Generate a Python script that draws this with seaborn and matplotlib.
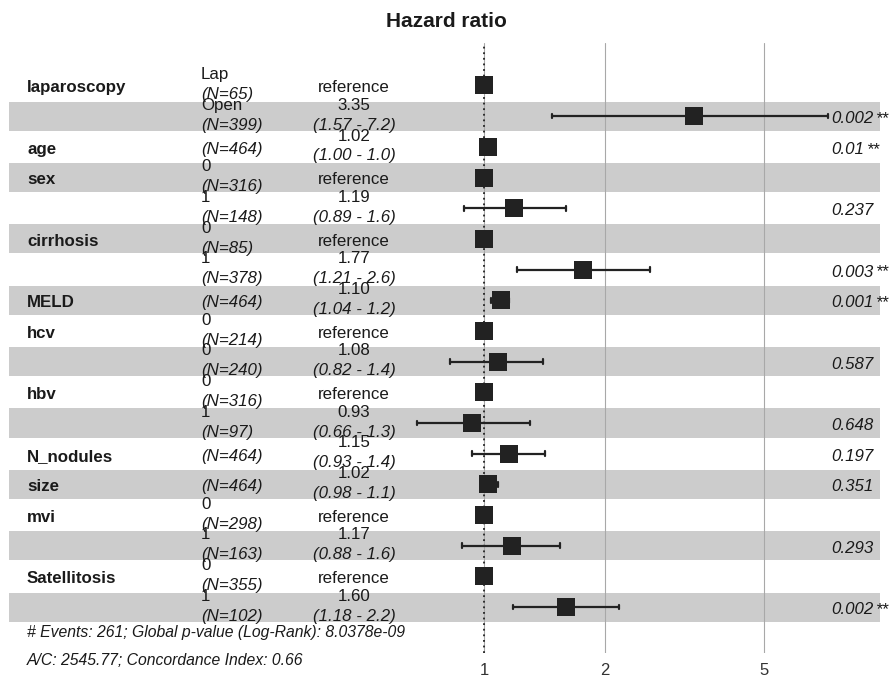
import numpy as np
import pandas as pd
import matplotlib
matplotlib.use("Agg")
import matplotlib.pyplot as plt
import matplotlib.transforms as mtransforms
import seaborn as sns

# ---- data -----------------------------------------------------------
variables = ["laparoscopy", "", "age", "sex", "", "cirrhosis", "", "MELD", "hcv", "",
             "hbv", "", "N_nodules", "size", "mvi", "", "Satellitosis", ""]
levels = ["Lap", "Open", "", "0", "1", "0", "1", "", "0", "0",
          "0", "1", "", "", "0", "1", "0", "1"]
n_obs = [65, 399, 464, 316, 148, 85, 378, 464, 214, 240,
         316, 97, 464, 464, 298, 163, 355, 102]
hr = [1.0, 3.35, 1.02, 1.0, 1.19, 1.0, 1.77, 1.10, 1.0, 1.08,
      1.0, 0.93, 1.15, 1.02, 1.0, 1.17, 1.0, 1.60]
ci_low = [np.nan, 1.48, 1.00, np.nan, 0.89, np.nan, 1.21, 1.04, np.nan, 0.82,
          np.nan, 0.68, 0.93, 0.98, np.nan, 0.88, np.nan, 1.18]
ci_high = [np.nan, 7.24, 1.03, np.nan, 1.60, np.nan, 2.60, 1.15, np.nan, 1.40,
           np.nan, 1.30, 1.42, 1.08, np.nan, 1.55, np.nan, 2.17]
est_labels = ["reference", "3.35", "1.02", "reference", "1.19", "reference", "1.77", "1.10",
              "reference", "1.08", "reference", "0.93", "1.15", "1.02", "reference", "1.17",
              "reference", "1.60"]
ci_labels = ["", "(1.57 - 7.2)", "(1.00 - 1.0)", "", "(0.89 - 1.6)", "", "(1.21 - 2.6)",
             "(1.04 - 1.2)", "", "(0.82 - 1.4)", "", "(0.66 - 1.3)", "(0.93 - 1.4)",
             "(0.98 - 1.1)", "", "(0.88 - 1.6)", "", "(1.18 - 2.2)"]
p_values = ["", "0.002", "0.01", "", "0.237", "", "0.003", "0.001", "",
            "0.587", "", "0.648", "0.197", "0.351", "", "0.293", "", "0.002"]
p_stars = ["", "**", "**", "", "", "", "**", "**", "",
           "", "", "", "", "", "", "", "", "**"]
x_ticks = [1, 2, 5]
x_tick_labels = ["1", "2", "5"]
title = "Hazard ratio"
foot1 = "# Events: 261; Global p-value (Log-Rank): 8.0378e-09"
foot2 = "A/C: 2545.77; Concordance Index: 0.66"

df = pd.DataFrame({"row": np.arange(len(variables)), "var": variables, "level": levels,
                   "N": n_obs, "hr": hr, "lo": ci_low, "hi": ci_high})

# ---- style ----------------------------------------------------------
sns.set_theme(style="white")
plt.rcParams["font.family"] = ["Liberation Sans", "DejaVu Sans"]
FS = 12.2
TXT = "#1a1a1a"
DARK = "#222222"

fig = plt.figure(figsize=(8.89, 6.77), dpi=100)
W, H = 889, 677
ax = fig.add_axes([0, 1 - 653 / H, 1, (653 - 43) / H])

scale = 173.5
x1px = 484.3
ax.set_xscale("log")
ax.set_xlim(np.exp((0 - x1px) / scale), np.exp((W - x1px) / scale))
nrow = len(variables)
ax.set_ylim(nrow - 1 + 1.496, -1.385)

# bands
for i in range(nrow):
    if i % 2 == 1:
        ax.axhspan(i - 0.473, i + 0.473, xmin=9 / W, xmax=880 / W,
                   color="#CCCCCC", lw=0, zorder=0)

# gridlines
for xv in x_ticks:
    ax.axvline(xv, color="#A8A8A8", lw=0.8, zorder=1)
ax.axvline(1, color=DARK, lw=1.3, ls=(0, (1, 2.1)), zorder=2)

# error bars
for _, r in df.dropna().iterrows():
    ax.plot([r.lo, r.hi], [r.row, r.row], color=DARK, lw=1.6, zorder=3, solid_capstyle="butt")
    for xv in (r.lo, r.hi):
        ax.plot([xv, xv], [r.row - 0.075, r.row + 0.075], color=DARK, lw=1.6, zorder=3)

sns.scatterplot(data=df, x="hr", y="row", marker="s", s=156, color=DARK,
                linewidth=0, ax=ax, zorder=4, legend=False)

# text columns (x in axes fraction, y in data)
tr = mtransforms.blended_transform_factory(ax.transAxes, ax.transData)
x_var, x_lev, x_est, x_p = 27 / W, 201 / W, 354 / W, 831 / W
UP, DN, CEN = -0.205, 0.443, 0.08
for i in range(nrow):
    if variables[i]:
        ax.text(x_var, i + CEN, variables[i], transform=tr, ha="left", va="center",
                fontsize=FS, fontweight="bold", color=TXT)
    ntxt = f"(N={n_obs[i]})"
    if levels[i]:
        ax.text(x_lev, i + UP, levels[i], transform=tr, ha="left", va="baseline",
                fontsize=FS, color=TXT)
        ax.text(x_lev, i + DN, ntxt, transform=tr, ha="left", va="baseline",
                fontsize=FS, style="italic", color=TXT)
    else:
        ax.text(x_lev, i + CEN, ntxt, transform=tr, ha="left", va="center",
                fontsize=FS, style="italic", color=TXT)
    if est_labels[i] == "reference":
        ax.text(x_est, i + CEN, est_labels[i], transform=tr, ha="center", va="center",
                fontsize=FS, color=TXT)
    else:
        ax.text(x_est, i + UP, est_labels[i], transform=tr, ha="center", va="baseline",
                fontsize=FS, color=TXT)
        ax.text(x_est, i + DN, ci_labels[i], transform=tr, ha="center", va="baseline",
                fontsize=FS, style="italic", color=TXT)
    if p_values[i]:
        t = ax.text(x_p, i + CEN, p_values[i], transform=tr, ha="left", va="center",
                    fontsize=FS, style="italic", color=TXT)
        if p_stars[i]:
            ax.annotate(p_stars[i], xy=(1, 0.5), xycoords=t, xytext=(1.5, 0),
                        textcoords="offset points", ha="left", va="center",
                        fontsize=FS, style="italic", color=TXT)

FS_FOOT = 11.35
ax.text(x_var, (632.7 - 85.5) / 30.68, foot1, transform=tr, ha="left", va="center",
        fontsize=FS_FOOT, style="italic", color=TXT)
ax.text(x_var, (660 - 85.5) / 30.68, foot2, transform=tr, ha="left", va="center",
        fontsize=FS_FOOT, style="italic", color=TXT)

# axes cosmetics
ax.set_xticks(x_ticks)
ax.set_xticklabels(x_tick_labels)
ax.xaxis.set_minor_locator(matplotlib.ticker.NullLocator())
ax.tick_params(axis="x", length=0, pad=7, labelsize=12, labelcolor="#333333")
ax.set_yticks([])
ax.set_xlabel("")
ax.set_ylabel("")
for s in ax.spines.values():
    s.set_visible(False)
ax.patch.set_alpha(0)

fig.text(446 / W, 1 - 27 / H, title, ha="center", va="baseline", fontsize=15,
         fontweight="bold", color=TXT)

fig.savefig("out.png", dpi=100)
